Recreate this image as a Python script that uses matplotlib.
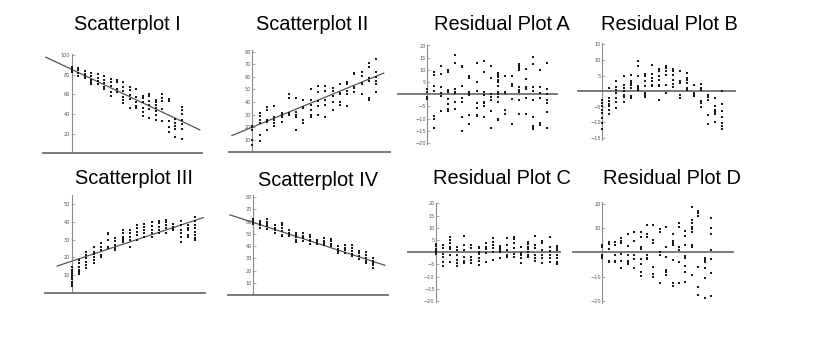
import matplotlib
matplotlib.use("Agg")
import numpy as np
import matplotlib.pyplot as plt

W, H = 829, 340

# ---- data: one list of y-values per x column (x = 0 .. 17) ----
sp1_y = [[88, 86, 84, 83], [87, 85, 82, 79], [84, 81, 79, 77], [82, 79, 75, 72, 70],
         [81, 77, 73, 70], [79, 75, 71, 67, 65], [76, 72, 68, 62, 58], [75, 72, 65, 62],
         [72, 67, 63, 57, 54, 51], [67, 64, 59, 55, 46], [65, 57, 52, 48, 46],
         [58, 56, 52, 46, 42, 38], [60, 58, 53, 49, 45, 36], [54, 52, 49, 46, 43, 39, 34],
         [60, 56, 53, 45, 33], [55, 53, 33, 27, 22], [35, 31, 28, 25, 17],
         [47, 44, 40, 34, 30, 25, 15]]
sp2_y = [[21, 20, 18, 10, 6], [31, 29, 26, 23, 14, 9], [36, 34, 26, 24, 18], [37, 28, 26, 23, 21],
         [31, 30, 28, 24], [46, 43, 31, 30], [43, 32, 30, 28, 18], [42, 36, 35, 26, 23],
         [50, 42, 38, 34, 30, 28], [53, 48, 41, 37, 30], [53, 49, 42, 38, 28], [51, 49, 45, 40, 34],
         [54, 47, 46, 40, 38], [56, 54, 49, 46, 37], [63, 62, 52, 51, 48], [64, 61, 55, 54, 46],
         [71, 68, 59, 57, 43, 42], [74, 64, 60, 57, 54, 48]]
sp3_y = [[14.5, 13, 12, 11, 10, 9, 7.5, 6, 5, 4], [18.5, 16.6, 14.7, 12.8, 11.5, 10.4],
         [23.2, 21.3, 19.4, 17.5, 15.7, 13.8], [26, 23.2, 21.7, 20.4, 18.5, 17],
         [28, 26, 24, 21.3, 20.4], [34, 33, 30, 26, 25], [31, 29, 27, 25, 24],
         [35.5, 33.6, 31.7, 30.8, 29.8, 28.9], [35.5, 33.6, 31.7, 29.8, 26],
         [38.3, 36.8, 34.5, 32.6, 29.8], [38.7, 37.4, 35.5, 33.6, 31.7], [39.8, 37.9, 35.5, 33.6, 31.7],
         [40.6, 39.2, 37.4, 35.5, 33.6], [41, 40, 38, 36.4, 33.6], [38.7, 37.4, 36.4, 35.5],
         [40.6, 38.3, 35.5, 33.6, 31.7, 28.9], [38.3, 36.4, 35.5, 32.6, 31.7],
         [42.5, 40.6, 38.3, 36.4, 34.5, 32.6, 30.8, 29.8]]
sp4_y = [[62, 61, 60, 59, 58], [60.5, 58.6, 56.8, 54.6], [62, 60, 58, 56, 54], [56.8, 55, 53, 50.5],
         [58.6, 56.8, 54.6, 52, 49, 48], [53, 51, 49.7, 48], [51, 49, 47, 45, 43], [50.5, 48.6, 46.5, 44.3],
         [49, 47, 45, 43.8, 41.6], [45, 43, 41.6], [46.5, 44.3, 42.4, 40.5], [46, 43.8, 41.6, 39.7],
         [39.7, 37.8, 36.2, 34.3], [40.5, 38.4, 36.5, 34.3], [40.5, 38.4, 35.7, 33.5, 31.6],
         [36.2, 34.3, 31.6, 29.7], [35, 32.4, 30.3, 28, 26.2], [30.3, 28, 26.2, 24.3, 22.2]]
resA_y = [[2, 1, -1, -2], [9, 8, 3.5, 1.5, -9, -10, -13.7], [11.8, 8.2, 3, 0.5, -0.5, -7],
          [10, 9.3, 1.8, 0.8, -2, -4, -6, -7], [16, 13, 2, 1, 0.4, -3, -6],
          [11.6, 11, 3.5, -1.6, -3, -9.5, -15], [7.3, 6.6, 1, 0.4, -0.3, -8.5, -12],
          [13, 5.2, 1.5, -3.5, -5.5, -8.5, -9], [13.8, 9.3, 1.1, -0.3, -3, -3.7, -5, -9.5],
          [11.4, 6.6, 0.1, -1, -2.3, -7, -13.7], [8.6, 8, 7, 5.9, 4.9, 3.4, 1.1, 0, -1, -3, -10, -10.5],
          [7.3, 1.1, 0.4, -6.4, -8], [7.7, 4.1, 3.2, -2, -12],
          [12.5, 11.6, 10.7, 10, 2.9, 1.8, 1, -2.3, -8], [10.3, 6.2, 3.1, 2, -1.6, -8],
          [15.2, 12.5, 3.1, 1.5, -2.3, -9.3, -12.8, -13.7, -14.4], [10, 3, 0.5, -1.6, -11.8, -12.5],
          [13, 2, 0, -2.5, -3.5, -7.3, -14]]
resB_y = [[-2.7, -3.7, -4.8, -5.9, -6.9, -8.5, -10.1, -12.2], [1, -2.1, -3.2, -4, -4.8, -5.9, -7.2],
          [3.2, 1.4, 0.5, -0.5, -2.1, -3.4, -5.5], [4.8, 2.1, 0.9, 0, -1.1, -1.9, -3.4],
          [5.1, 3.4, 2.7, 2.1, 1.1, -1.6, -2.1], [9.8, 8, 5, 1.6, 1.1, 0.5],
          [5.6, 5, 3.2, 1.6, -0.5, -1.3, -1.8], [8.3, 5.6, 4.3, 3.4, 2.1, 1.6],
          [7.2, 6.4, 4.8, 3.7, 2.1, 1.6, -2.9], [8, 7.4, 6.4, 5.3, 2.1, -0.5],
          [7.2, 6.4, 5.3, 3.7, 2.3, 1.4], [6.4, 3.2, 2.7, -1.1, -2.1], [5.9, 4.3, 3.7, 2.7, 1.1, 0.5],
          [1.9, -0.5, -1.3, -1.6], [2.4, 0.9, 0.3, -3.2, -3.7, -5], [-1.1, -1.9, -2.9, -7.7, -10.4],
          [-2.1, -4.8, -5.9, -6.4, -6.9, -7.4, -9.9], [0, -4, -6.4, -8.3, -10.1, -11.2, -12.2]]
resC_y = [[3.5, 2.5, 1.5, 0.5, 0, -0.5], [3, 1.9, -0.8, -1.8, -3.8, -5.5],
          [6.2, 5, 4, 2.3, 1.4, -1.1, -3.8], [2, 1, -1.1, -3.2, -4.5, -5.5],
          [6.8, 3, 1, -1.8, -3.6, -4.2], [3, 1.6, -1.8, -3.2, -4.2],
          [2.3, 1.6, 0.3, -0.8, -2.2, -3.6, -5.2], [3.7, 2.3, 1.4, -0.4, -3.8],
          [5.8, 4.4, 3, 1.6, 0, -3.2], [2.7, 1.6, 1, 0, -2.5], [6, 3, 1, -1.1, -1.8],
          [6.2, 5.3, 3.7, 1.6, -0.8, -1.8], [2.3, -0.4, -1.1, -2.5, -4.5],
          [4.4, 3.3, 2.3, 1.4, 0, -1.1, -2], [6.8, 3, 1.9, -1.1, -2.5, -3.4],
          [4.8, 3.7, 1, -1.1, -2.2, -4.2], [6.2, 2, 0.5, -1.1, -2.2, -3.8],
          [2.7, 1.9, 1, -1.1, -2.5, -3.8, -4.9]]
resD_y = [[3, 2, -1.1, -1.8, -2.5], [4.4, 3.4, 1.4, -3.4, -4.1], [4.1, 3, -1.1, -3.4, -4.1],
          [5.8, 4.8, 3.7, -0.8, -3.4, -6.6], [7.5, 2.7, -1.1, -3.4, -4.5, -4.9],
          [8.5, 4.8, -1.1, -2.9, -6.6], [8.5, 6.4, 2.3, 1.4, -2.7, -4.8, -7.9, -9.6],
          [11, 7.4, 6.4, -1.1, -2.2, -2.9], [11, 5, 3.7, -5.9, -9, -10], [9.5, 8.5, 0, -1.1, -12.7],
          [10.3, 2.3, -1.8, -7.3, -8.2, -9.3], [7.4, 4.7, 3.7, 3, -3.2, -12.7, -13.7],
          [12, 10.5, 2, 1, -3.8, -12.7], [8.8, 6.7, 3, -1.5, -2.5, -5.5, -8.2, -12.3],
          [18.4, 13.3, 11.9, 10.5, 9.6, 8.2, 3, 2.3, -9.3], [17, 16, 15, -5.9, -14.1, -17.5],
          [-2.2, -3.2, -3.8, -6.3, -10.4, -18.9], [14.2, 9.9, 7.4, 1, -2.7, -8.4, -17.8]]

# fitted lines: (intercept, slope, x from, x to)
fit1 = (85.3, -3.1, -4.0, 19.8)
fit2 = (20.0, 2.39, -2.8, 18.0)
fit3 = (17.8, 1.36, -2.0, 18.1)
fit4 = (59.2, -1.87, -3.3, 18.6)

titles = ["Scatterplot I", "Scatterplot II", "Residual Plot A", "Residual Plot B",
          "Scatterplot III", "Scatterplot IV", "Residual Plot C", "Residual Plot D"]
yticks1 = [20, 40, 60, 80, 100]
yticks2 = [10, 20, 30, 40, 50, 60, 70, 80]
yticks3 = [10, 20, 30, 40, 50]
yticks_r20 = [-20, -15, -10, -5, 5, 10, 15, 20]
yticks_r15 = [-15, -10, -5, 5, 10, 15]
yticks_d = [-20, -10, 10, 20]

# layout in pixels: origin x, origin y, px per x-col, px per y-unit, x-axis left/right px, ylim
layout = [
    (71.7, 153.4, 6.47, 0.985, 43, 202, 0, 101),
    (252.3, 152.3, 7.3, 1.257, 229, 390, 0, 81),
    (427.3, 94.3, 7.03, 2.44, 398, 557, -20.4, 20.2),
    (602.3, 91.3, 7.07, 3.12, 578, 735, -15.6, 15.6),
    (71.7, 292.7, 7.27, 1.77, 45, 205, 0, 55.2),
    (253.3, 295.3, 7.07, 1.23, 228, 388, 0, 81.5),
    (436.0, 252.3, 7.1, 2.44, 408, 560, -20.5, 20.3),
    (602.3, 252.3, 6.4, 2.44, 573, 733, -20.6, 20.8),
]
title_pos = [(127, 30), (312, 30), (502, 30.5), (669, 30.5),
             (134, 184), (318, 186), (502, 184), (672, 184)]

panels = [sp1_y, sp2_y, resA_y, resB_y, sp3_y, sp4_y, resC_y, resD_y]
fits = [fit1, fit2, None, None, fit3, fit4, None, None]
ticks = [yticks1, yticks2, yticks_r20, yticks_r15, yticks3, yticks2, yticks_r20, yticks_d]

fig = plt.figure(figsize=(W / 100, H / 100), dpi=100)
fig.patch.set_facecolor("white")

for cols, fit, yt, (ox, oy, dx, dy, xl, xr, ylo, yhi) in zip(panels, fits, ticks, layout):
    top_px = oy - yhi * dy
    bot_px = oy - ylo * dy
    ax = fig.add_axes([xl / W, 1 - bot_px / H, (xr - xl) / W, (bot_px - top_px) / H])
    ax.set_xlim((xl - ox) / dx, (xr - ox) / dx)
    ax.set_ylim(ylo, yhi)
    ax.patch.set_alpha(0)

    xs = np.concatenate([np.full(len(c), i) for i, c in enumerate(cols)])
    ys = np.concatenate([np.array(c, float) for c in cols])
    ax.scatter(xs, ys, s=2.2, marker="s", color="#1a1a1a", linewidths=0, clip_on=False, zorder=3)

    if fit is not None:
        a, b, x0, x1 = fit
        xx = np.array([x0, x1])
        ax.plot(xx, a + b * xx, color="#555555", lw=0.9, zorder=2, clip_on=False)

    for s in ("top", "right"):
        ax.spines[s].set_visible(False)
    ax.spines["left"].set_position(("data", 0))
    ax.spines["bottom"].set_position(("data", 0))
    ax.spines["left"].set_color("#8a8a8a")
    ax.spines["left"].set_linewidth(0.8)
    ax.spines["bottom"].set_color("#707070")
    ax.spines["bottom"].set_linewidth(1.3)
    ax.set_xticks([])
    ax.set_yticks(yt)
    ax.set_yticklabels([str(v).replace("-", "\u2212") for v in yt])
    ax.tick_params(axis="y", direction="in", length=1.8, width=0.5, color="#888888",
                   labelsize=3.6, labelcolor="#555555", pad=1.0)

for t, (tx, ty) in zip(titles, title_pos):
    fig.text(tx / W, 1 - ty / H, t, ha="center", va="baseline",
             fontsize=14.4, family="Liberation Sans", color="black")

fig.savefig("out.png", dpi=100, facecolor="white")
